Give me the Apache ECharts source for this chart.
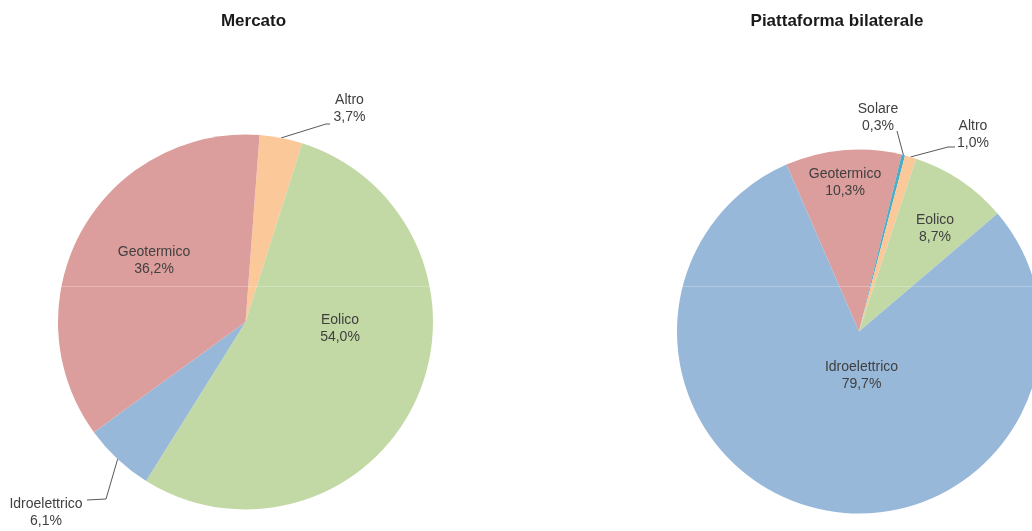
<!DOCTYPE html>
<html><head><meta charset="utf-8">
<script src="https://cdn.jsdelivr.net/npm/echarts@6/dist/echarts.min.js"></script>
<style>html,body{margin:0;padding:0;background:#fff;overflow:hidden}#c{width:1032px;height:531px}</style>
</head><body><div id="c"></div><script>
// ---- data ----
const chartTitles = ['Mercato', 'Piattaforma bilaterale'];
const mercatoCategories = ['Altro', 'Eolico', 'Idroelettrico', 'Geotermico'];
const mercatoValues = [3.7, 54.0, 6.1, 36.2];
const bilateraleCategories = ['Geotermico', 'Solare', 'Altro', 'Eolico', 'Idroelettrico'];
const bilateraleValues = [10.3, 0.3, 1.0, 8.7, 79.7];

// ---- style / layout ----
const COLORS = {Eolico:'#c2d9a5', Geotermico:'#dc9e9c', Idroelettrico:'#97b8d8', Altro:'#fbc899', Solare:'#4bacc6'};
const TEXT = '#404040';
const PIES = [
  {cats: mercatoCategories, vals: mercatoValues, center:[245.5,322], radius:187.5, startAngle:85.7, titleX:248.5,
   labels:{Altro:{pos:[104,-213], line:[[-23.5,15],[-19.5,15]]},
           Eolico:{pos:[94.5,6.5]},
           Idroelettrico:{pos:[-199.5,191], line:[[60,-14],[41,-13]]},
           Geotermico:{pos:[-91.5,-61.5]}}},
  {cats: bilateraleCategories, vals: bilateraleValues, center:[859,331.5], radius:182, startAngle:113.5, titleX:832,
   labels:{Geotermico:{pos:[-14,-149]},
           Solare:{pos:[19,-214], line:[[19,13.5],[19,13.5]]},
           Altro:{pos:[114,-197], line:[[-25,12.5],[-18,12.5]]},
           Eolico:{pos:[76,-102.5]},
           Idroelettrico:{pos:[2.5,44.5]}}}
];

function fmt(v){ return v.toFixed(1).replace('.', ','); }

function edgePoint(p, idx){
  const total = p.vals.reduce((a,b)=>a+b,0);
  let cum = 0; for (let i=0;i<idx;i++) cum += p.vals[i];
  const a = ((90 - p.startAngle) + 360*(cum + p.vals[idx]/2)/total) * Math.PI/180;
  return [p.center[0] + p.radius*Math.sin(a), p.center[1] - p.radius*Math.cos(a)];
}

const series = PIES.map((p, si) => ({
  type:'pie',
  center: p.center,
  radius: p.radius,
  startAngle: p.startAngle,
  clockwise: true,
  avoidLabelOverlap: false,
  silent: true,
  itemStyle:{borderWidth:0},
  label:{
    formatter: (d)=> d.name + '\n' + fmt(d.value) + '%',
    color: TEXT, fontFamily:'Liberation Sans, Arial, sans-serif', fontSize:14, lineHeight:17, align:'center'
  },
  labelLine:{lineStyle:{color:'#595959', width:1}, smooth:false},
  labelLayout: function(params){
    const name = p.cats[params.dataIndex];
    const L = p.labels[name];
    const x = p.center[0] + L.pos[0], y = p.center[1] + L.pos[1];
    const out = {x:x, y:y, align:'center', verticalAlign:'middle'};
    if (L.line) {
      out.labelLinePoints = [edgePoint(p, params.dataIndex),
        [x + L.line[0][0], y + L.line[0][1]],
        [x + L.line[1][0], y + L.line[1][1]]];
    }
    return out;
  },
  data: p.cats.map((c, i) => {
    const outside = !!p.labels[c].line;
    return {
      name: c, value: p.vals[i],
      itemStyle:{color: COLORS[c]},
      label:{position: outside ? 'outside' : 'inside', show:true},
      labelLine:{show: outside, length:10, length2:5}
    };
  })
}));

const chart = echarts.init(document.getElementById('c'), null, {renderer:'canvas'});
chart.setOption({
  animation:false,
  backgroundColor:'#ffffff',
  title: PIES.map((p, i) => ({
    text: chartTitles[i], left: p.titleX, top: 8, textAlign:'center',
    textStyle:{fontFamily:'Liberation Sans, Arial, sans-serif', fontSize:17, fontWeight:'bold', color:'#1a1a1a'}
  })),
  series: series,
  graphic:[{type:'line', shape:{x1:0,y1:286.5,x2:1032,y2:286.5}, style:{stroke:'rgba(255,255,255,0.25)', lineWidth:1}, z:100, silent:true}]
});
</script></body></html>
